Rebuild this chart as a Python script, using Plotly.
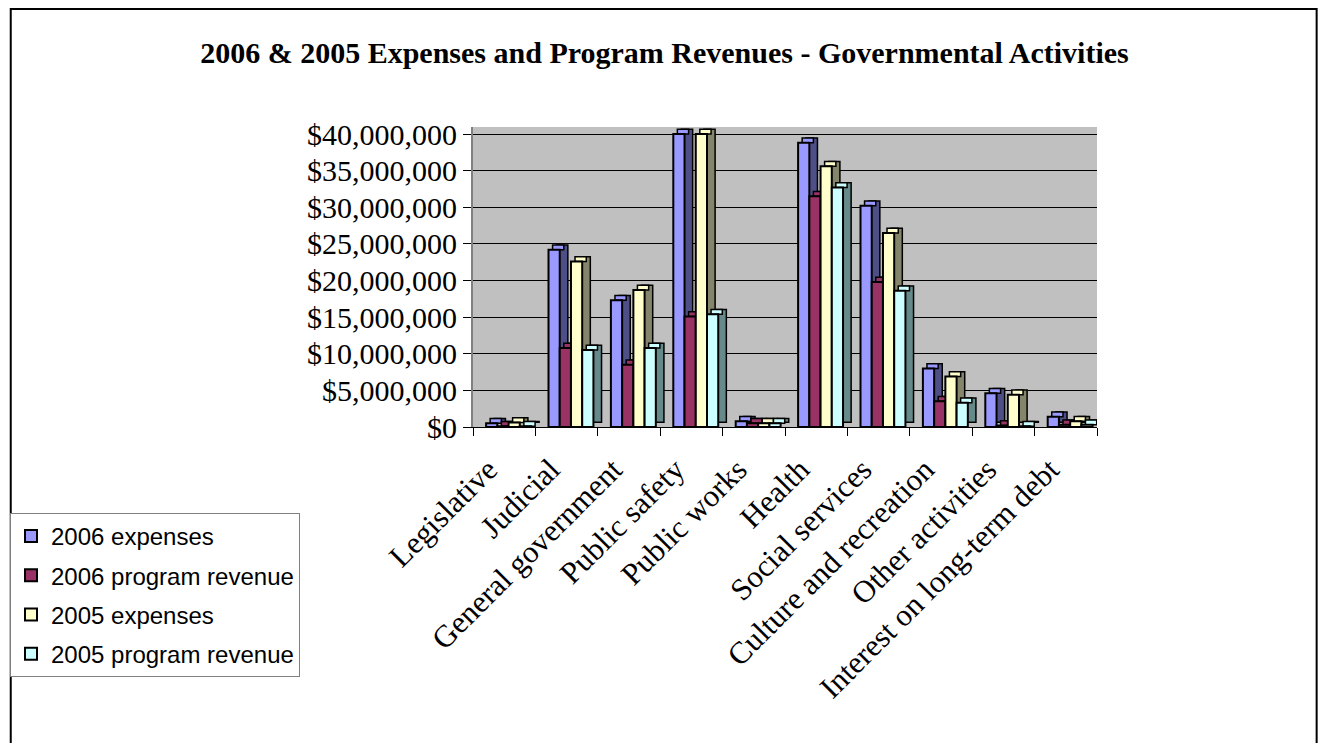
import plotly.graph_objects as go

categories = ["Legislative", "Judicial", "General government", "Public safety",
              "Public works", "Health", "Social services", "Culture and recreation",
              "Other activities", "Interest on long-term debt"]

exp_2006 = [500000, 24200000, 17300000, 40000000, 800000, 38800000, 30200000, 8000000, 4600000, 1400000]
rev_2006 = [100000, 10800000, 8500000, 15100000, 500000, 31500000, 19800000, 3500000, 200000, 300000]
exp_2005 = [600000, 22600000, 18700000, 40000000, 500000, 35600000, 26500000, 6900000, 4400000, 800000]
rev_2005 = [100000, 10500000, 10800000, 15400000, 500000, 32700000, 18600000, 3300000, 100000, 300000]

series_names = ["2006 expenses", "2006 program revenue", "2005 expenses", "2005 program revenue"]
series_values = [exp_2006, rev_2006, exp_2005, rev_2005]
front_colors = ["#9999FF", "#993366", "#FFFFCC", "#CCFFFF"]
side_colors = ["#4F4F87", "#4D1A33", "#85856B", "#668A8A"]

BAR_W = 0.18
GROUP_START = -0.29
DX = 0.13          # depth offset in category units
DY = 650000        # depth offset in value units

fig = go.Figure()
line = dict(color="black", width=1.5)
for j, (name, vals) in enumerate(zip(series_names, series_values)):
    off = GROUP_START + BAR_W * j
    # side (depth) face
    fig.add_trace(go.Bar(x=categories, y=vals, base=DY, offset=off + DX, width=BAR_W,
                         marker=dict(color=side_colors[j], line=line),
                         showlegend=False, hoverinfo="skip", cliponaxis=False))
    # top face
    fig.add_trace(go.Bar(x=categories, y=[DY] * len(vals), base=vals, offset=off + DX / 2,
                         width=BAR_W, marker=dict(color=front_colors[j], line=line),
                         showlegend=False, hoverinfo="skip", cliponaxis=False))
    # front face
    fig.add_trace(go.Bar(x=categories, y=vals, offset=off, width=BAR_W, name=name,
                         legendgroup=name,
                         marker=dict(color=front_colors[j], line=dict(color="black", width=2)),
                         cliponaxis=False))

L, R, T, B = 472, 1097, 127, 427
W, H = 1321, 743
pw, ph = R - L, B - T

def px(x):
    return (x - L) / pw

def py(y):
    return (B - y) / ph

fig.update_layout(
    width=W, height=H,
    margin=dict(l=L, r=W - R, t=T, b=H - B, pad=0),
    barmode="overlay",
    paper_bgcolor="white",
    plot_bgcolor="#C0C0C0",
    title=dict(text="<b>2006 & 2005 Expenses and Program Revenues - Governmental Activities</b>",
               font=dict(family="Liberation Serif", size=30, color="black"),
               x=0.503, xref="container", xanchor="center",
               y=1 - 52 / H, yref="container", yanchor="middle"),
    xaxis=dict(type="category", range=[-0.5, 9.5], tickangle=-45,
               tickfont=dict(family="Liberation Serif", size=31, color="black"),
               ticks="outside", ticklen=8, tickcolor="black", tickson="boundaries",
               ticklabelstandoff=11, ticklabelshift=-16,
               showline=True, linecolor="black", linewidth=1, showgrid=False),
    yaxis=dict(range=[0, 40960000], dtick=5000000, tickprefix="$", tickformat=",d",
               tickfont=dict(family="Liberation Serif", size=30, color="black"),
               ticks="outside", ticklen=8, tickcolor="black",
               showline=True, linecolor="#808080", linewidth=2,
               showgrid=True, gridcolor="black", gridwidth=1, zeroline=False),
    legend=dict(x=px(10), y=py(513), xanchor="left", yanchor="top",
                font=dict(family="Liberation Sans", size=24, color="black"),
                bgcolor="white", bordercolor="#808080", borderwidth=1,
                tracegroupgap=5, traceorder="grouped", itemwidth=30),
    shapes=[dict(type="rect", xref="paper", yref="paper",
                 x0=px(9), x1=px(1317), y0=py(780), y1=py(9),
                 line=dict(color="black", width=2), fillcolor="rgba(0,0,0,0)", layer="above")],
)

fig.write_html("out.html")
